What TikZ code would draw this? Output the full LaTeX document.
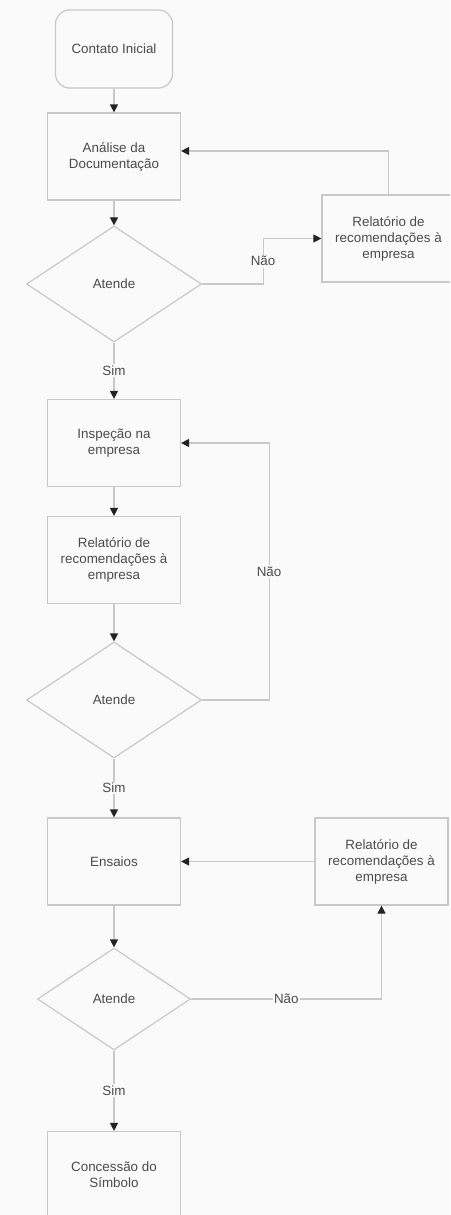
\documentclass[tikz,border=0pt]{standalone}
\usepackage{fontspec}
\setmainfont{Liberation Sans}
\usetikzlibrary{arrows.meta,shapes.geometric,positioning}
\definecolor{linegray}{RGB}{200,200,200}
\definecolor{textgray}{RGB}{75,75,75}
\definecolor{tipgray}{RGB}{35,35,35}
\definecolor{paper}{RGB}{250,250,250}

\begin{document}
\begin{tikzpicture}
    [x=1pt, y=-1pt,
    every node/.style = {align=center, text=textgray,
        font=\fontsize{13.4}{16}\selectfont},
    box/.style = {shape=rectangle, draw=linegray, line width=1.2pt,
        minimum width=133pt, minimum height=87pt, inner sep=0pt},
    startbox/.style = {box, rounded corners=14pt,
        minimum width=117pt, minimum height=78pt},
    decision/.style = {shape=diamond, draw=linegray, line width=1.2pt,
        minimum width=175pt, minimum height=116pt, inner sep=0pt},
    flow/.style = {draw=linegray, line width=1.2pt,
        -{Triangle[width=8pt,length=8pt,color=tipgray]}},
    lbl/.style = {fill=paper, inner sep=1.5pt}]

    \useasboundingbox (0,0) rectangle (450,1215);
    \clip (0,0) rectangle (450,1215);
    \fill[paper] (0,0) rectangle (450,1215);

    % main column
    \node[startbox] (start) at (114,49) {Contato Inicial};
    \node[box] (analise) at (114,156.5) {Análise da\\ Documentação};
    \node[decision] (atende1) at (114,284) {Atende};
    \node[box] (inspecao) at (114,443) {Inspeção na\\ empresa};
    \node[box] (relat2) at (114,560) {Relatório de\\ recomendações à\\ empresa};
    \node[decision] (atende2) at (114,700) {Atende};
    \node[box] (ensaios) at (114,861.5) {Ensaios};
    \node[decision, minimum width=153pt, minimum height=102pt] (atende3) at (114,999) {Atende};
    \node[box] (concessao) at (114,1175) {Concessão do\\ Símbolo};

    % side boxes
    \node[box] (relat1) at (388.5,238.5) {Relatório de\\ recomendações à\\ empresa};
    \node[box] (relat3) at (381.5,861.5) {Relatório de\\ recomendações à\\ empresa};

    \draw[flow] (start) -- (analise);
    \draw[flow] (analise) -- (atende1);
    \draw[flow] (atende1) -- node[lbl] {Sim} (inspecao);
    \draw[flow] (inspecao) -- (relat2);
    \draw[flow] (relat2) -- (atende2);
    \draw[flow] (atende2) -- node[lbl] {Sim} (ensaios);
    \draw[flow] (ensaios) -- (atende3);
    \draw[flow] (atende3) -- node[lbl] {Sim} (concessao);

    \draw[flow] (atende1.east) -- ++(61,0) |- node[lbl, pos=0.25] {Não} (relat1.west);
    \draw[flow] (relat1.north) |- ([yshift=5.5pt]analise.east);
    \draw[flow] (atende2.east) -- ++(67,0) |- node[lbl, pos=0.25] {Não} (inspecao.east);
    \draw[flow] (atende3.east) -| node[lbl, pos=0.25] {Não} (relat3.south);
    \draw[flow] (relat3.west) -- (ensaios.east);
\end{tikzpicture}
\end{document}
